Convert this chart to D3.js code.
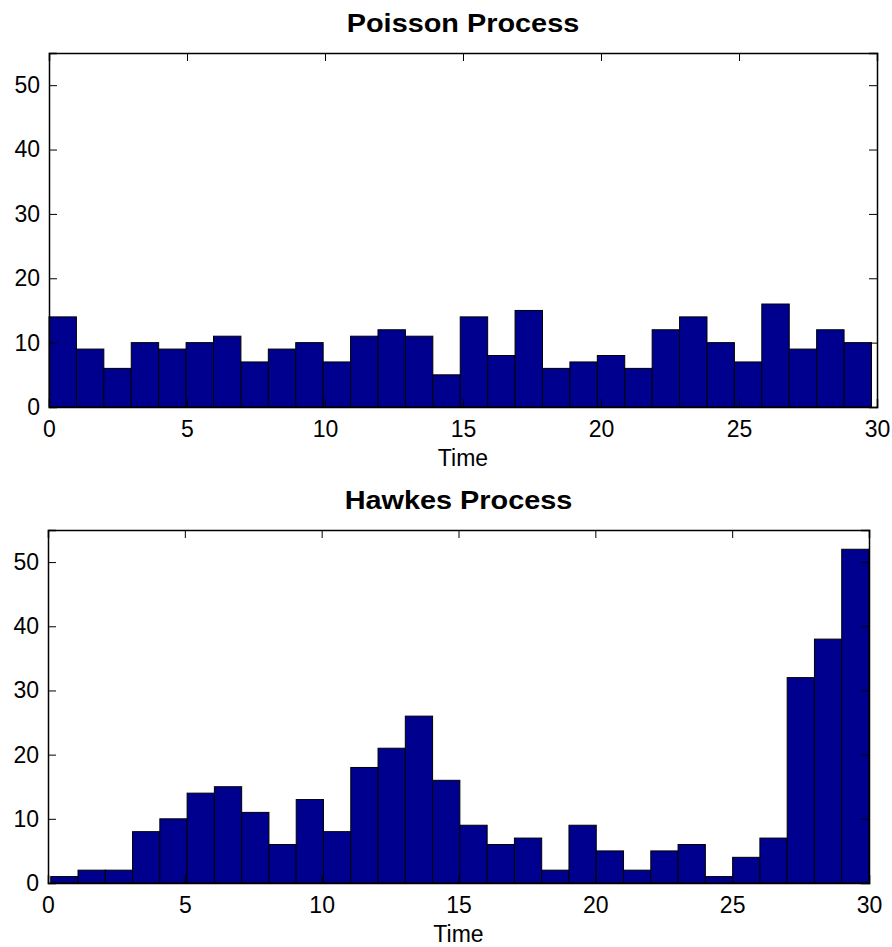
<!DOCTYPE html>
<html>
<head>
<meta charset="utf-8">
<script src="https://cdn.jsdelivr.net/npm/d3@7"></script>
<style>
  body { margin: 0; background: #fff; }
  svg { display: block; font-family: "Liberation Sans", Arial, sans-serif; }
</style>
</head>
<body>
<div id="chart"></div>
<script>
// counts per bin
const poissonCounts = [14, 9, 6, 10, 9, 10, 11, 7, 9, 10, 7, 11, 12, 11, 5, 14, 8, 15, 6, 7, 8, 6, 12, 14, 10, 7, 16, 9, 12, 10];
const hawkesCounts = [1, 2, 2, 8, 10, 14, 15, 11, 6, 13, 8, 18, 21, 26, 16, 9, 6, 7, 2, 9, 5, 2, 5, 6, 1, 4, 7, 32, 38, 52];

// histogram range of each panel (min / max event time)
const poissonRange = [0, 29.8];
const hawkesRange = [0.1, 30];

const xTicks = [0, 5, 10, 15, 20, 25, 30];
const yTicks = [0, 10, 20, 30, 40, 50];
const titles = ["Poisson Process", "Hawkes Process"];
const xLabel = "Time";

const width = 892, height = 947;
const barColor = "#00008f";

const svg = d3.select("#chart")
    .append("svg")
    .attr("width", width)
    .attr("height", height);

function drawPanel(box, counts, range, title) {
    let x = d3.scaleLinear().domain([0, 30]).range([box.left, box.right]);
    let y = d3.scaleLinear().domain([0, 55]).range([box.bottom, box.top]);

    let g = svg.append("g");
    let step = (range[1] - range[0]) / counts.length;

    g.selectAll("rect.bar")
        .data(counts)
        .join("rect")
        .attr("class", "bar")
        .attr("x", (d, i) => x(range[0] + i * step))
        .attr("width", x(step) - x(0))
        .attr("y", d => y(d))
        .attr("height", d => y(0) - y(d))
        .attr("fill", barColor)
        .attr("stroke", "#000")
        .attr("stroke-width", 1);

    // axes, ticks pointing inward like matlab
    let tickLen = 8;
    let bottomAxis = d3.axisBottom(x).tickValues(xTicks).tickSize(-tickLen).tickPadding(14).tickFormat(d3.format("d"));
    let topAxis = d3.axisTop(x).tickValues(xTicks).tickSize(-tickLen).tickFormat("");
    let leftAxis = d3.axisLeft(y).tickValues(yTicks).tickSize(-tickLen).tickPadding(9).tickFormat(d3.format("d"));
    let rightAxis = d3.axisRight(y).tickValues(yTicks).tickSize(-tickLen).tickFormat("");

    g.append("g").attr("transform", `translate(0,${box.bottom})`).call(bottomAxis);
    g.append("g").attr("transform", `translate(0,${box.top})`).call(topAxis);
    g.append("g").attr("transform", `translate(${box.left},0)`).call(leftAxis);
    g.append("g").attr("transform", `translate(${box.right},0)`).call(rightAxis);

    g.selectAll(".domain").attr("stroke", "#000").attr("stroke-width", 1.5);
    g.selectAll(".tick line").attr("stroke", "#000").attr("stroke-width", 1);
    g.selectAll(".tick text").style("font-size", "23px").attr("fill", "#000");

    // title looks a bit wider than plain arial bold, stretch it
    g.append("text")
        .attr("transform", `translate(${(box.left + box.right) / 2},${box.top - 21}) scale(1.11,1)`)
        .attr("text-anchor", "middle")
        .style("font-size", "26px")
        .style("font-weight", "bold")
        .text(title);

    g.append("text")
        .attr("x", (box.left + box.right) / 2)
        .attr("y", box.bottom + 59)
        .attr("text-anchor", "middle")
        .style("font-size", "23px")
        .text(xLabel);
}

drawPanel({ left: 49, right: 877, top: 53, bottom: 407 }, poissonCounts, poissonRange, titles[0]);
drawPanel({ left: 48, right: 869, top: 530, bottom: 883 }, hawkesCounts, hawkesRange, titles[1]);
</script>
</body>
</html>
